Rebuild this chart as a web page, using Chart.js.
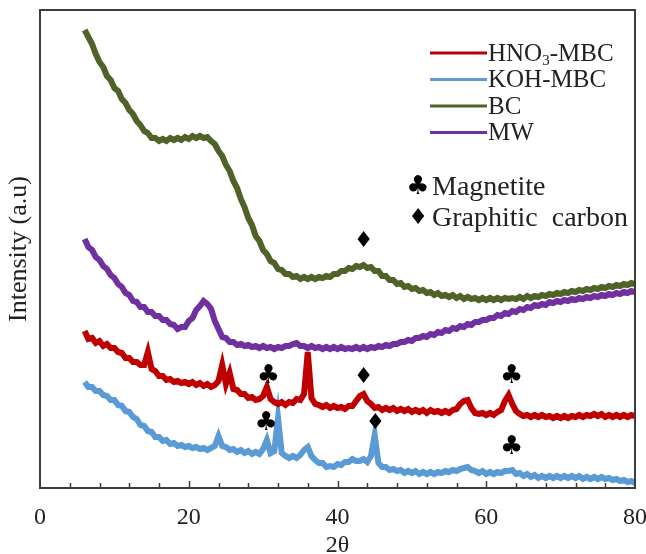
<!DOCTYPE html>
<html>
<head>
<meta charset="utf-8">
<script src="https://cdn.jsdelivr.net/npm/chart.js@4.4.1/dist/chart.umd.min.js"></script>
<style>
  html, body { margin: 0; padding: 0; background: #fff; }
  canvas { display: block; }
</style>
</head>
<body>
<canvas id="xrd" width="646" height="554"></canvas>
<script>
// 2θ sampling positions (degrees), shared by all four patterns
const twoTheta = [
  6, 6.5, 7, 7.5, 8, 8.5, 9, 9.5, 10, 10.5,
  11, 11.5, 12, 12.5, 13, 13.5, 14, 14.5, 15, 15.5,
  16, 16.5, 17, 17.5, 18, 18.5, 19, 19.5, 20, 20.5,
  21, 21.5, 22, 22.5, 23, 23.5, 24, 24.5, 25, 25.5,
  26, 26.5, 27, 27.5, 28, 28.5, 29, 29.5, 30, 30.5,
  31, 31.5, 32, 32.5, 33, 33.5, 34, 34.5, 35, 35.5,
  36, 36.5, 37, 37.5, 38, 38.5, 39, 39.5, 40, 40.5,
  41, 41.5, 42, 42.5, 43, 43.5, 44, 44.5, 45, 45.5,
  46, 46.5, 47, 47.5, 48, 48.5, 49, 49.5, 50, 50.5,
  51, 51.5, 52, 52.5, 53, 53.5, 54, 54.5, 55, 55.5,
  56, 56.5, 57, 57.5, 58, 58.5, 59, 59.5, 60, 60.5,
  61, 61.5, 62, 62.5, 63, 63.5, 64, 64.5, 65, 65.5,
  66, 66.5, 67, 67.5, 68, 68.5, 69, 69.5, 70, 70.5,
  71, 71.5, 72, 72.5, 73, 73.5, 74, 74.5, 75, 75.5,
  76, 76.5, 77, 77.5, 78, 78.5, 79, 79.5, 80
];

// intensities (a.u., offset patterns)
const hno3Mbc = [
  157, 149, 150, 145, 147, 142, 144, 140, 140, 136,
  135, 130, 130, 126, 126, 123, 123, 136, 119, 117,
  112, 112, 108, 109, 106, 107, 105, 106, 104, 106,
  103, 105, 102, 104, 101, 103, 107, 123, 104, 115,
  99, 98, 94, 94, 90, 91, 88, 89, 92, 101,
  89, 86, 84, 86, 83, 86, 85, 89, 88, 94,
  136, 90, 84, 83, 81, 83, 80, 82, 80, 81,
  79, 82, 82, 87, 92, 94, 87, 84, 80, 81,
  78, 80, 78, 80, 77, 79, 77, 79, 76, 78,
  76, 78, 75, 78, 76, 77, 75, 77, 75, 78,
  79, 84, 87, 88, 80, 75, 74, 75, 73, 75,
  73, 76, 78, 87, 93, 84, 77, 74, 72, 73,
  71, 73, 71, 73, 71, 72, 70, 72, 70, 72,
  70, 72, 71, 73, 71, 73, 72, 74, 72, 74,
  71, 73, 71, 73, 71, 73, 71, 73, 72
];

const kohMbc = [
  106, 101, 101, 97, 97, 93, 92, 88, 88, 83,
  82, 77, 76, 71, 69, 63, 62, 57, 56, 51,
  51, 47, 48, 44, 45, 42, 43, 41, 42, 40,
  41, 39, 40, 38, 40, 42, 52, 42, 41, 38,
  39, 36, 38, 35, 37, 34, 36, 34, 39, 48,
  35, 37, 70, 35, 32, 30, 32, 30, 33, 38,
  41, 32, 28, 25, 25, 21, 22, 21, 24, 23,
  26, 26, 29, 27, 27, 29, 26, 32, 53, 25,
  21, 21, 18, 19, 17, 18, 15, 17, 15, 17,
  14, 16, 14, 16, 14, 16, 15, 17, 16, 18,
  17, 19, 20, 21, 18, 17, 15, 17, 14, 16,
  14, 16, 15, 17, 17, 18, 14, 15, 12, 14,
  11, 13, 10, 12, 10, 12, 10, 12, 10, 12,
  10, 12, 10, 12, 9, 11, 9, 11, 9, 11,
  9, 10, 8, 9, 7, 8, 6, 7, 5
];

const bc = [
  458, 451, 444, 434, 426, 421, 412, 408, 400, 397,
  389, 385, 378, 374, 367, 363, 357, 355, 350, 350,
  347, 349, 347, 350, 348, 350, 348, 351, 349, 352,
  350, 352, 350, 351, 347, 344, 337, 332, 323, 317,
  307, 300, 289, 281, 270, 263, 252, 247, 238, 234,
  227, 225, 219, 218, 214, 214, 211, 212, 209, 211,
  209, 211, 209, 211, 210, 212, 211, 214, 214, 217,
  217, 220, 219, 222, 221, 223, 220, 221, 217, 217,
  212, 212, 208, 208, 204, 205, 201, 202, 199, 200,
  197, 198, 195, 196, 193, 195, 192, 193, 191, 193,
  190, 192, 189, 191, 189, 190, 188, 190, 188, 190,
  188, 190, 188, 190, 189, 190, 189, 191, 189, 192,
  190, 192, 191, 193, 192, 194, 193, 195, 194, 196,
  195, 197, 196, 198, 197, 199, 198, 200, 199, 201,
  200, 202, 201, 203, 202, 204, 203, 205, 204
];

const mw = [
  249, 241, 238, 231, 228, 222, 219, 213, 210, 204,
  201, 195, 193, 187, 186, 181, 181, 176, 176, 172,
  172, 168, 168, 164, 163, 159, 161, 161, 167, 170,
  178, 182, 187, 184, 179, 167, 159, 151, 150, 146,
  146, 143, 144, 142, 143, 141, 142, 140, 142, 140,
  141, 139, 141, 140, 142, 142, 144, 145, 142, 142,
  140, 142, 140, 141, 139, 141, 139, 141, 139, 141,
  139, 140, 139, 141, 139, 141, 139, 141, 140, 142,
  141, 143, 142, 144, 144, 146, 146, 148, 147, 150,
  150, 152, 151, 154, 153, 156, 155, 158, 157, 160,
  159, 162, 161, 164, 163, 166, 166, 168, 168, 170,
  170, 173, 172, 175, 174, 177, 176, 179, 178, 181,
  180, 183, 182, 184, 183, 186, 185, 187, 186, 188,
  187, 189, 188, 190, 189, 191, 190, 192, 191, 193,
  192, 194, 193, 195, 194, 196, 195, 197, 196
];

// phase marks set above the reflections
const markTheta = [43.5, 30.7, 43.5, 63.4, 30.4, 45.1, 63.4];
const markLevel = [247, 112, 111, 112, 65, 65, 41];
const markSymbol = ['♦', '♣', '♦', '♣', '♣', '♦', '♣'];

const xTickValues = [0, 20, 40, 60, 80];

const SERIF = '"Liberation Serif", "Times New Roman", serif';
const SYMBOL = '"DejaVu Sans", sans-serif';
const INK = '#222';

function pts(ys) {
  return twoTheta.map((t, i) => ({ x: t, y: ys[i] }));
}

// box round the plot and small inward ticks on the 2θ axis
const frameTicks = {
  id: 'frameTicks',
  afterDatasetsDraw(chart) {
    const { ctx, chartArea: a } = chart;
    const x = chart.scales.x;
    ctx.save();
    ctx.strokeStyle = '#3c3c3c';
    ctx.lineWidth = 2;
    ctx.strokeRect(a.left, a.top, a.right - a.left, a.bottom - a.top);
    ctx.lineWidth = 1.5;
    for (let v = 4; v < 80; v += 4) {
      const px = Math.round(x.getPixelForValue(v)) + 0.5;
      const len = v % 20 === 0 ? 7 : 5;
      ctx.beginPath();
      ctx.moveTo(px, a.bottom);
      ctx.lineTo(px, a.bottom - len);
      ctx.stroke();
    }
    ctx.restore();
  }
};

// ♣ / ♦ marks over the peaks
const phaseMarks = {
  id: 'phaseMarks',
  afterDatasetsDraw(chart) {
    const { ctx } = chart;
    const { x, y } = chart.scales;
    ctx.save();
    ctx.fillStyle = '#000';
    ctx.textAlign = 'center';
    ctx.textBaseline = 'middle';
    markSymbol.forEach((s, i) => {
      ctx.font = (s === '♣' ? '26px ' : '22px ') + SYMBOL;
      ctx.fillText(s, x.getPixelForValue(markTheta[i]), y.getPixelForValue(markLevel[i]));
    });
    ctx.restore();
  }
};

// series key and phase key inside the plot, top right
function drawLabel(ctx, text, x0, y0, size) {
  const parts = text.split('₃');
  let cx = x0;
  ctx.font = size + 'px ' + SERIF;
  ctx.fillText(parts[0], cx, y0);
  cx += ctx.measureText(parts[0]).width;
  if (parts.length > 1) {
    ctx.font = Math.round(size * 0.6) + 'px ' + SERIF;
    ctx.fillText('3', cx, y0 + size * 0.28);
    cx += ctx.measureText('3').width;
    ctx.font = size + 'px ' + SERIF;
    ctx.fillText(parts[1], cx, y0);
  }
}

const keyBox = {
  id: 'keyBox',
  afterDraw(chart) {
    const { ctx } = chart;
    ctx.save();
    ctx.textBaseline = 'middle';
    ctx.textAlign = 'left';
    chart.data.datasets.forEach((ds, i) => {
      const yy = 53 + i * 26.5;
      ctx.strokeStyle = ds.borderColor;
      ctx.lineWidth = 3;
      ctx.beginPath();
      ctx.moveTo(430, yy);
      ctx.lineTo(487, yy);
      ctx.stroke();
      ctx.fillStyle = INK;
      drawLabel(ctx, ds.label, 488, yy + 1, 25);
    });
    ctx.fillStyle = '#000';
    ctx.font = '26px ' + SYMBOL;
    ctx.textAlign = 'center';
    ctx.fillText('♣', 418, 187);
    ctx.font = '22px ' + SYMBOL;
    ctx.fillText('♦', 418, 218);
    ctx.textAlign = 'left';
    ctx.fillStyle = INK;
    ctx.font = '28px ' + SERIF;
    ctx.fillText('Magnetite', 432, 188);
    ctx.fillText('Graphitic  carbon', 432, 219);
    ctx.restore();
  }
};

new Chart(document.getElementById('xrd'), {
  type: 'line',
  data: {
    datasets: [
      { label: 'HNO₃-MBC', data: pts(hno3Mbc), borderColor: '#c00000' },
      { label: 'KOH-MBC', data: pts(kohMbc), borderColor: '#5b9bd5' },
      { label: 'BC', data: pts(bc), borderColor: '#4f6228' },
      { label: 'MW', data: pts(mw), borderColor: '#7030a0' }
    ]
  },
  options: {
    responsive: false,
    animation: false,
    datasets: {
      line: { borderWidth: 6, pointRadius: 0, tension: 0, fill: false }
    },
    layout: { padding: { top: 10, right: 11, left: 0, bottom: 0 } },
    plugins: {
      legend: { display: false },
      tooltip: { enabled: false }
    },
    scales: {
      x: {
        type: 'linear',
        min: 0,
        max: 80,
        afterBuildTicks: (s) => { s.ticks = xTickValues.map(v => ({ value: v })); },
        afterFit: (s) => { s.height = 66; s.paddingLeft = 0; s.paddingRight = 0; },
        ticks: { color: INK, font: { family: SERIF, size: 24 }, padding: 15, maxRotation: 0 },
        grid: { display: false, drawTicks: false },
        border: { display: false },
        title: {
          display: true,
          text: '2θ',
          color: INK,
          font: { family: SERIF, size: 24, lineHeight: 1 },
          padding: { top: 0, bottom: -4 }
        }
      },
      y: {
        min: 0,
        max: 478,
        afterFit: (s) => { s.width = 40; },
        ticks: { display: false },
        grid: { display: false, drawTicks: false },
        border: { display: false },
        title: {
          display: true,
          text: 'Intensity (a.u)',
          color: INK,
          font: { family: SERIF, size: 26 },
          padding: { top: 4, bottom: 0 }
        }
      }
    }
  },
  plugins: [frameTicks, phaseMarks, keyBox]
});
</script>
</body>
</html>
